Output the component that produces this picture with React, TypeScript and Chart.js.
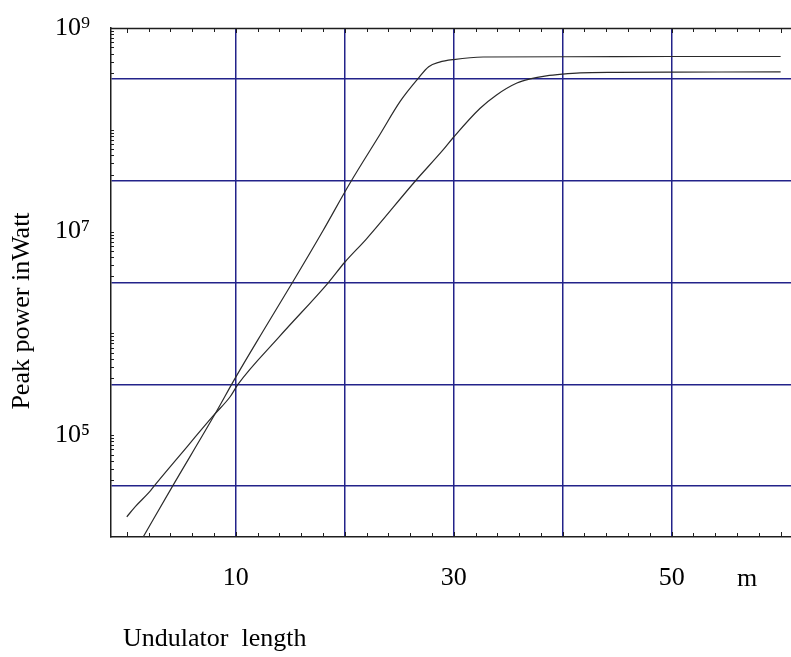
import { useEffect, useRef } from 'react';
import { Chart, registerables } from 'chart.js';

Chart.register(...registerables);

// Peak power (W) versus undulator length (m) for two gain curves
const steepLength = [1.5, 4.2, 8.0, 10.0, 12.5, 15.2, 18.0, 20.5, 23.2, 25.1, 26.7, 27.7, 28.7, 30.0, 32.7, 40, 50, 60];
const steepPower = [1.0e4, 3.16e4, 1.55e5, 3.72e5, 1.05e6, 3.16e6, 1.02e7, 3.02e7, 8.9e7, 1.91e8, 3.16e8, 4.17e8, 4.62e8, 4.9e8, 5.19e8, 5.22e8, 5.25e8, 5.25e8];

const gentleLength = [0, 0.8, 2.1, 2.5, 5.0, 8.0, 9.5, 10.2, 14.0, 18.5, 20.0, 22.0, 26.5, 29.0, 30.0, 32.4, 33.9, 35.8, 37.0, 38.5, 40.0, 41.6, 45, 50, 60];
const gentlePower = [1.58e4, 2.0e4, 2.79e4, 3.16e4, 6.6e4, 1.58e5, 2.4e5, 3.16e5, 9.3e5, 3.16e6, 5.0e6, 8.5e6, 3.16e7, 6.3e7, 8.5e7, 1.62e8, 2.19e8, 2.88e8, 3.16e8, 3.39e8, 3.53e8, 3.63e8, 3.67e8, 3.69e8, 3.7e8];

// Axis ticks and labels
const lengthGridValues = [10, 20, 30, 40, 50];
const lengthLabelValues = [10, 30, 50];
const lengthTickValues = [0, 2, 4, 6, 8, 10, 12, 14, 16, 18, 20, 22, 24, 26, 28, 30, 32, 34, 36, 38, 40, 42, 44, 46, 48, 50, 52, 54, 56, 58, 60];
const powerGridValues = [3.162e4, 3.162e5, 3.162e6, 3.162e7, 3.162e8];
const powerLabelValues = [1e5, 1e7, 1e9];
const powerLabelText = ['10⁵', '10⁷', '10⁹'];
const powerDecades = [5, 6, 7, 8, 9];

const SERIF = '"Liberation Serif", "Times New Roman", serif';
const GRID_BLUE = '#23238a';
const AXIS_DARK = '#1e1e1e';

// inward minor ticks of the power axis, packed below each decade
const powerMinorTicks: number[] = [];
for (const d of powerDecades) {
  for (let k = 10; k >= 2; k--) {
    powerMinorTicks.push(Math.pow(10, d - 0.63 * Math.log10(10 / k)));
  }
}

const framePlugin = {
  id: 'frame',
  afterDraw(chart: any) {
    const { ctx, chartArea: a, scales } = chart;
    const xs = scales.x;
    const ys = scales.y;
    ctx.save();

    // top frame line
    ctx.strokeStyle = AXIS_DARK;
    ctx.lineWidth = 1.4;
    ctx.beginPath();
    ctx.moveTo(a.left, a.top + 0.5);
    ctx.lineTo(a.right, a.top + 0.5);
    ctx.stroke();

    // inward ticks on bottom and top
    ctx.lineWidth = 1;
    for (const v of lengthTickValues) {
      const px = Math.round(xs.getPixelForValue(v)) + 0.5;
      const len = v % 10 === 0 ? 5 : 4;
      ctx.beginPath();
      ctx.moveTo(px, a.bottom);
      ctx.lineTo(px, a.bottom - len);
      ctx.moveTo(px, a.top);
      ctx.lineTo(px, a.top + len);
      ctx.stroke();
    }

    // inward ticks on the left
    for (const v of powerMinorTicks) {
      const py = Math.round(ys.getPixelForValue(v)) + 0.5;
      if (py < a.top || py > a.bottom) continue;
      ctx.beginPath();
      ctx.moveTo(a.left, py);
      ctx.lineTo(a.left + 3, py);
      ctx.stroke();
    }

    // titles and unit
    ctx.fillStyle = '#000';
    ctx.font = `26px ${SERIF}`;
    ctx.textAlign = 'left';
    ctx.textBaseline = 'alphabetic';
    ctx.fillText('Undulator  length', 123, 646);

    ctx.textAlign = 'center';
    ctx.fillText('m', 747, 586);

    ctx.translate(29, 311);
    ctx.rotate(-Math.PI / 2);
    ctx.textAlign = 'center';
    ctx.fillText('Peak power inWatt', 0, 0);

    ctx.restore();
  },
};

export default function App() {
  const canvasRef = useRef<HTMLCanvasElement | null>(null);

  useEffect(() => {
    const canvas = canvasRef.current;
    if (!canvas) return;

    const chart = new Chart(canvas, {
      type: 'line',
      data: {
        datasets: [
          {
            label: 'steep',
            data: steepLength.map((x, i) => ({ x, y: steepPower[i] })),
            borderColor: '#2a2a2a',
            borderWidth: 1.2,
            pointRadius: 0,
            cubicInterpolationMode: 'monotone',
            fill: false,
          },
          {
            label: 'gentle',
            data: gentleLength.map((x, i) => ({ x, y: gentlePower[i] })),
            borderColor: '#2a2a2a',
            borderWidth: 1.2,
            pointRadius: 0,
            cubicInterpolationMode: 'monotone',
            fill: false,
          },
        ],
      },
      options: {
        responsive: false,
        animation: false,
        layout: { padding: { top: 28, right: 0, left: 0, bottom: 0 } },
        plugins: {
          legend: { display: false },
          tooltip: { enabled: false },
        },
        scales: {
          x: {
            type: 'linear',
            position: 'bottom',
            min: -1.45,
            max: 60.95,
            afterBuildTicks: (scale: any) => {
              scale.ticks = lengthGridValues.map((value) => ({ value }));
            },
            afterFit: (scale: any) => {
              scale.height = 120;
              scale.paddingLeft = 0;
              scale.paddingRight = 0;
            },
            grid: {
              color: GRID_BLUE,
              lineWidth: 1.5,
              drawTicks: false,
            },
            border: { display: true, color: AXIS_DARK, width: 1.5 },
            ticks: {
              autoSkip: false,
              maxRotation: 0,
              padding: 26,
              color: '#000',
              font: { family: SERIF, size: 26 },
              callback: (value: any) =>
                lengthLabelValues.includes(Number(value)) ? String(value) : '',
            },
          },
          y: {
            type: 'logarithmic',
            position: 'left',
            min: 1e4,
            max: 1e9,
            afterBuildTicks: (scale: any) => {
              scale.ticks = [...powerGridValues, ...powerLabelValues]
                .sort((p, q) => p - q)
                .map((value) => ({ value }));
            },
            afterFit: (scale: any) => {
              scale.width = 111;
              scale.paddingTop = 0;
              scale.paddingBottom = 0;
            },
            grid: {
              color: (ctx: any) =>
                powerGridValues.includes(ctx.tick?.value) ? GRID_BLUE : 'rgba(0,0,0,0)',
              lineWidth: 1.5,
              drawTicks: false,
            },
            border: { display: true, color: AXIS_DARK, width: 1.5 },
            ticks: {
              autoSkip: false,
              padding: 21,
              color: '#000',
              font: { family: SERIF, size: 26 },
              callback: (value: any) => {
                const i = powerLabelValues.indexOf(Number(value));
                return i >= 0 ? powerLabelText[i] : '';
              },
            },
          },
        },
      },
      plugins: [framePlugin],
    });

    return () => chart.destroy();
  }, []);

  return (
    <div style={{ position: 'fixed', left: 0, top: 0, width: 791, height: 657, background: '#fff' }}>
      <canvas ref={canvasRef} width={791} height={657} style={{ width: 791, height: 657, display: 'block' }} />
    </div>
  );
}
